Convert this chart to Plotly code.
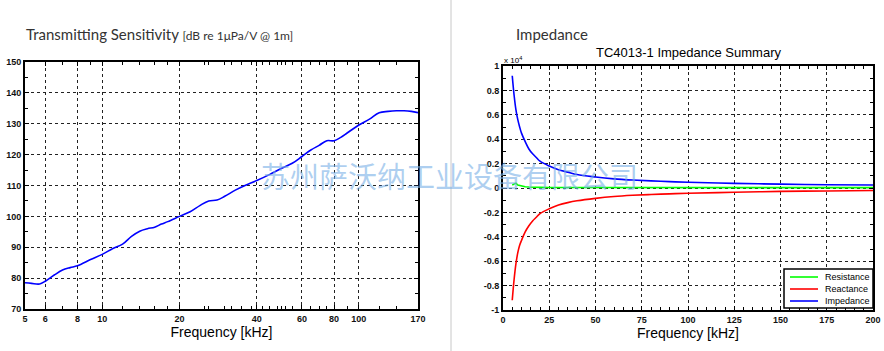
import plotly.graph_objects as go

# Transmitting sensitivity data
ts_freq = [5, 5.3, 5.7, 6, 6.5, 7, 7.5, 8, 9, 10, 11, 12, 13, 14, 15, 16, 17, 18, 20, 22, 24, 26, 28,
           30, 33, 36, 40, 45, 50, 55, 60, 65, 70, 75, 80, 85, 90, 100, 110, 120, 130, 140, 150, 160, 170]
ts_db = [78.5, 78.3, 78.1, 79.0, 81.0, 82.6, 83.4, 84.0, 86.0, 87.7, 89.6, 91.0, 93.5, 95.2, 96.0, 96.5,
         97.5, 98.3, 100.0, 101.5, 103.5, 105.0, 105.3, 106.5, 108.5, 110.0, 111.6, 113.6, 115.6, 117.2,
         119.4, 121.5, 123.0, 124.5, 124.5, 125.6, 127.0, 129.6, 131.5, 133.6, 134.0, 134.2, 134.2, 134.0, 133.6]
ts_xticks = [5, 6, 8, 10, 20, 40, 60, 80, 100, 170]
ts_minor = [7, 9, 12, 14, 16, 18, 25, 26, 30, 32, 35, 38, 42, 45, 48, 50, 52, 55, 65, 70, 75, 90, 120, 140]

# Impedance data (units of 1e4 ohm)
imp_freq = [5, 6, 7, 8, 9, 10, 12, 14, 16, 18, 20, 25, 30, 35, 40, 50, 60, 70, 80, 90, 100, 125, 150, 175, 200]
impedance = [0.92, 0.76, 0.64, 0.56, 0.50, 0.45, 0.38, 0.32, 0.28, 0.25, 0.22, 0.18, 0.15, 0.13, 0.11,
             0.09, 0.075, 0.065, 0.058, 0.052, 0.047, 0.038, 0.032, 0.027, 0.024]
reactance = [-0.92, -0.75, -0.62, -0.53, -0.47, -0.43, -0.36, -0.31, -0.27, -0.24, -0.21, -0.17, -0.14,
             -0.12, -0.105, -0.085, -0.07, -0.06, -0.053, -0.048, -0.043, -0.035, -0.028, -0.024, -0.02]
resistance = [0.025, 0.035, 0.04, 0.025, 0.02, 0.015, 0.01, 0.008, 0.006, 0.005, 0.005, 0.004, 0.004,
              0.004, 0.004, 0.003, 0.003, 0.003, 0.003, 0.003, 0.003, 0.003, 0.003, 0.003, 0.003]
legend_names = ["Resistance", "Reactance", "Impedance"]
legend_colors = ["#00ff00", "#ff0000", "#0000ff"]

W, H = 884, 351
fig = go.Figure()

fig.add_trace(go.Scatter(x=ts_freq, y=ts_db, mode="lines", line=dict(color="#0000ff", width=1.6, shape="spline"),
                         xaxis="x", yaxis="y", showlegend=False))
fig.add_trace(go.Scatter(x=imp_freq, y=resistance, mode="lines", name="Resistance", showlegend=False,
                         line=dict(color="#00ff00", width=1.6), xaxis="x2", yaxis="y2"))
fig.add_trace(go.Scatter(x=imp_freq, y=reactance, mode="lines", name="Reactance", showlegend=False,
                         line=dict(color="#ff0000", width=1.6, shape="spline"), xaxis="x2", yaxis="y2"))
fig.add_trace(go.Scatter(x=imp_freq, y=impedance, mode="lines", name="Impedance", showlegend=False,
                         line=dict(color="#0000ff", width=1.6, shape="spline"), xaxis="x2", yaxis="y2"))

tickfont = dict(family="Liberation Sans", size=9, color="#111", weight="bold")
common = dict(showline=True, linecolor="black", linewidth=2, mirror="allticks", ticks="inside",
              ticklen=4, tickcolor="black", showgrid=True, gridcolor="#222", griddash="dot", gridwidth=1,
              zeroline=False, tickfont=tickfont, automargin=False)

shapes = [dict(type="line", xref="paper", yref="paper", x0=451/W, x1=451/W, y0=0, y1=1,
               line=dict(color="#c8c8c8", width=1))]
annotations = [
    dict(text="Transmitting Sensitivity <span style='font-size:12px'>[dB re 1μPa/V @ 1m]</span>",
         xref="paper", yref="paper", x=24/W, y=(H-34)/H, xanchor="left", yanchor="middle",
         showarrow=False, font=dict(family="Lato", size=15, color="#333")),
    dict(text="Impedance", xref="paper", yref="paper", x=514/W, y=(H-34)/H, xanchor="left",
         yanchor="middle", showarrow=False, font=dict(family="Lato", size=15, color="#333")),
    dict(text="TC4013-1 Impedance Summary", xref="paper", yref="paper", x=688/W, y=(H-53)/H,
         xanchor="center", yanchor="middle", showarrow=False,
         font=dict(family="Liberation Sans", size=13, color="black")),
    dict(text="x 10<sup>4</sup>", xref="paper", yref="paper", x=502/W, y=(H-60)/H, xanchor="left",
         yanchor="middle", showarrow=False, font=dict(family="Liberation Sans", size=8, color="black")),
    dict(text="苏州萨沃纳工业设备有限公司", xref="paper", yref="paper", x=449/W, y=(H-175)/H,
         xanchor="center", yanchor="middle", showarrow=False,
         font=dict(family="Noto Sans CJK SC", size=29, color="rgba(120,175,230,0.6)")),
]

# custom compact legend box (pixel positions converted to paper coords)
lx0, lx1, ly0, ly1 = 784, 873, 269, 308
shapes.append(dict(type="rect", xref="paper", yref="paper", x0=lx0/W, x1=lx1/W, y0=(H-ly1)/H, y1=(H-ly0)/H,
                   fillcolor="white", line=dict(color="black", width=1.5), layer="above"))
for i, (nm, col) in enumerate(zip(legend_names, legend_colors)):
    yy = 277 + i * 12
    shapes.append(dict(type="line", xref="paper", yref="paper", x0=790/W, x1=818/W, y0=(H-yy)/H, y1=(H-yy)/H,
                       line=dict(color=col, width=1.6), layer="above"))
    annotations.append(dict(text=nm, xref="paper", yref="paper", x=823/W, y=(H-yy)/H, xanchor="left",
                            yanchor="middle", showarrow=False,
                            font=dict(family="Liberation Sans", size=9, color="black")))

fig.update_layout(
    width=W, height=H, margin=dict(l=0, r=0, t=0, b=0),
    paper_bgcolor="white", plot_bgcolor="white", showlegend=False,
    xaxis=dict(type="log", range=[0.69897, 2.2304], domain=[25/W, 418/W], anchor="y",
               tickvals=ts_xticks, ticktext=[str(v) for v in ts_xticks],
               minor=dict(ticks="inside", ticklen=3, tickcolor="black", tickvals=ts_minor, showgrid=False),
               title=dict(text="Frequency [kHz]", font=dict(family="Liberation Sans", size=14, color="black"), standoff=4),
               **common),
    yaxis=dict(range=[70, 150], domain=[(H-309)/H, (H-62)/H], anchor="x", dtick=10,
               minor=dict(ticks="inside", ticklen=3, tickcolor="black", dtick=5, showgrid=False),
               **common),
    xaxis2=dict(range=[0, 200], domain=[503/W, 873/W], anchor="y2", dtick=25,
                minor=dict(ticks="inside", ticklen=3, tickcolor="black", dtick=5, showgrid=False),
                title=dict(text="Frequency [kHz]", font=dict(family="Liberation Sans", size=14, color="black"), standoff=4),
                **common),
    yaxis2=dict(range=[-1, 1], domain=[(H-310)/H, (H-66)/H], anchor="x2",
                tickvals=[-1, -0.8, -0.6, -0.4, -0.2, 0, 0.2, 0.4, 0.6, 0.8, 1],
                ticktext=["-1", "-0.8", "-0.6", "-0.4", "-0.2", "0", "0.2", "0.4", "0.6", "0.8", "1"],
                minor=dict(ticks="inside", ticklen=3, tickcolor="black", dtick=0.1, showgrid=False),
                **common),
    shapes=shapes, annotations=annotations,
)

fig.write_html("out.html")
